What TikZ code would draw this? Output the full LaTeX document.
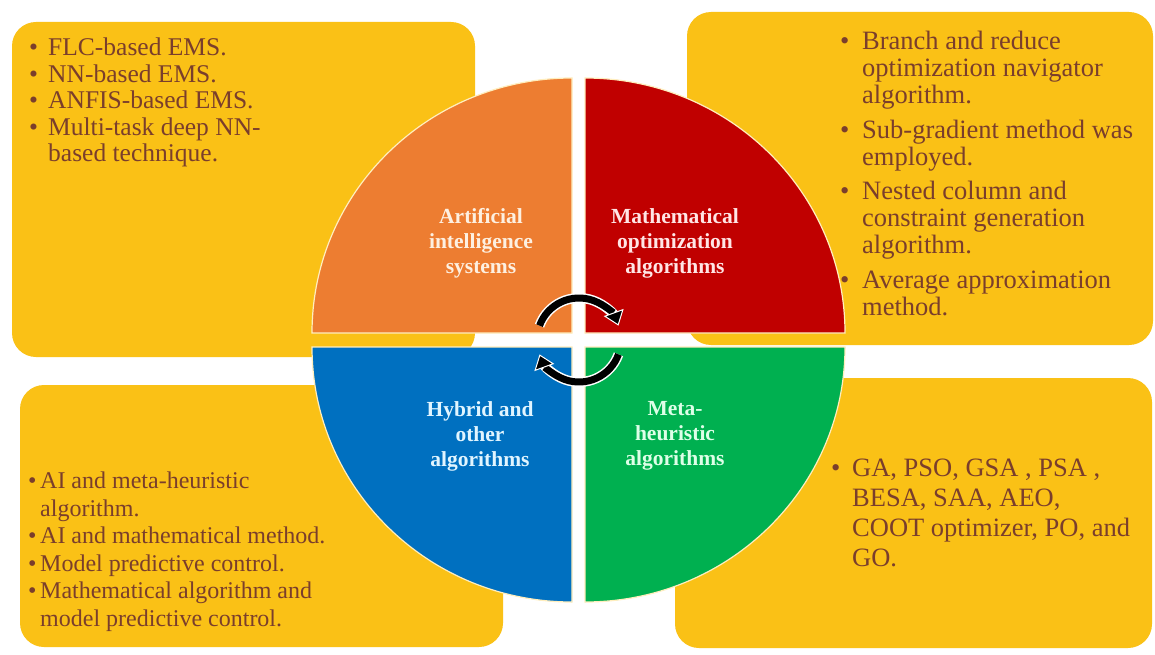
\documentclass[tikz,border=0pt]{standalone}
\usepackage{fontspec}
\setmainfont{Liberation Serif}
\usetikzlibrary{arrows.meta}

\definecolor{boxgold}{RGB}{250,193,22}
\definecolor{boxink}{RGB}{122,62,44}
\definecolor{qorange}{RGB}{237,125,49}
\definecolor{qred}{RGB}{192,0,0}
\definecolor{qblue}{RGB}{0,112,192}
\definecolor{qgreen}{RGB}{0,176,80}
\definecolor{rimline}{RGB}{255,238,190}
\definecolor{inkai}{RGB}{253,240,225}
\definecolor{inkmo}{RGB}{255,230,230}
\definecolor{inkhy}{RGB}{225,245,255}
\definecolor{inkmh}{RGB}{222,255,232}

% bullet set in a box of the given width
\newcommand{\bul}[1]{\makebox[#1][l]{\textbullet}}

\begin{document}
\begin{tikzpicture}[x=1pt,y=-1pt,
  panel/.style={fill=boxgold, rounded corners=24pt},
  quarter/.style={draw=rimline, line width=1.2pt},
  listtext/.style={anchor=north west, inner sep=0pt, align=left, text=boxink},
  sectorlabel/.style={align=center, inner sep=0pt, font=\bfseries\fontsize{21.5}{25}\selectfont},
  cyclearrow/.style={line width=7pt, black, -{Triangle[length=14pt,width=21pt,color=white,fill=black,line width=1pt]}},
  cyclehalo/.style={line width=10pt, white, shorten >=10pt},
]
\useasboundingbox (0,0) rectangle (1155,655);
\fill[white] (0,0) rectangle (1155,655);

% four rounded panels behind the disc
\fill[panel] (12,22) rectangle (475,357);
\fill[panel] (687,12) rectangle (1153,345);
\fill[panel] (20,385) rectangle (503,647);
\fill[panel] (675,378) rectangle (1152,648);

% the disc, cut into four quarters
\path[quarter, fill=qorange] (572,333) -- (312,333)
  arc[start angle=180, end angle=90, x radius=260pt, y radius=255pt] -- cycle;
\path[quarter, fill=qred] (585,333) -- (845,333)
  arc[start angle=0, end angle=90, x radius=260pt, y radius=255pt] -- cycle;
\path[quarter, fill=qblue] (572,347) -- (312,347)
  arc[start angle=180, end angle=270, x radius=260pt, y radius=255pt] -- cycle;
\path[quarter, fill=qgreen] (585,347) -- (845,347)
  arc[start angle=0, end angle=-90, x radius=260pt, y radius=255pt] -- cycle;

% quarter titles
\node[sectorlabel, text=inkai] (ai) at (481,243) {Artificial\\intelligence\\systems};
\node[sectorlabel, text=inkmo] (mo) at (675,243) {Mathematical\\optimization\\algorithms};
\node[sectorlabel, text=inkhy] (hy) at (480,436) {Hybrid and\\other\\algorithms};
\node[sectorlabel, text=inkmh] (mh) at (675,436) {Meta-\\heuristic\\algorithms};

% clockwise cycle arrows at the hub
\coordinate (hub) at (579,340);
\draw[cyclehalo] ([shift={(160:42pt)}]hub) arc[start angle=160, end angle=20, radius=42pt];
\draw[cyclearrow] ([shift={(160:42pt)}]hub) arc[start angle=160, end angle=20, radius=42pt];
\draw[cyclehalo] ([shift={(-20:42pt)}]hub) arc[start angle=-20, end angle=-160, radius=42pt];
\draw[cyclearrow] ([shift={(-20:42pt)}]hub) arc[start angle=-20, end angle=-160, radius=42pt];

% bullet lists
\node[listtext, font=\fontsize{25.5}{26.5}\selectfont] (ailist) at (29,38)
  {\bul{19pt}FLC-based EMS.\\
   \bul{19pt}NN-based EMS.\\
   \bul{19pt}ANFIS-based EMS.\\
   \bul{19pt}Multi-task deep NN-\\
   \hspace*{19pt}based technique.};

\node[listtext, font=\fontsize{26.5}{27}\selectfont] (molist) at (840,31)
  {\bul{22pt}Branch and reduce\\
   \hspace*{22pt}optimization navigator\\
   \hspace*{22pt}algorithm.\\[7.5pt]
   \bul{22pt}Sub-gradient method was\\
   \hspace*{22pt}employed.\\[7.5pt]
   \bul{22pt}Nested column and\\
   \hspace*{22pt}constraint generation\\
   \hspace*{22pt}algorithm.\\[7.5pt]
   \bul{22pt}Average approximation\\
   \hspace*{22pt}method.};

\node[listtext, font=\fontsize{24}{27.5}\selectfont] (hylist) at (28,472)
  {\bul{12pt}AI and meta-heuristic\\
   \hspace*{12pt}algorithm.\\
   \bul{12pt}AI and mathematical method.\\
   \bul{12pt}Model predictive control.\\
   \bul{12pt}Mathematical algorithm and\\
   \hspace*{12pt}model predictive control.};

\node[listtext, font=\fontsize{26.5}{30}\selectfont] (mhlist) at (831,459)
  {\bul{21pt}GA, PSO, GSA , PSA ,\\
   \hspace*{21pt}BESA, SAA, AEO,\\
   \hspace*{21pt}COOT optimizer, PO, and\\
   \hspace*{21pt}GO.};
\end{tikzpicture}
\end{document}
